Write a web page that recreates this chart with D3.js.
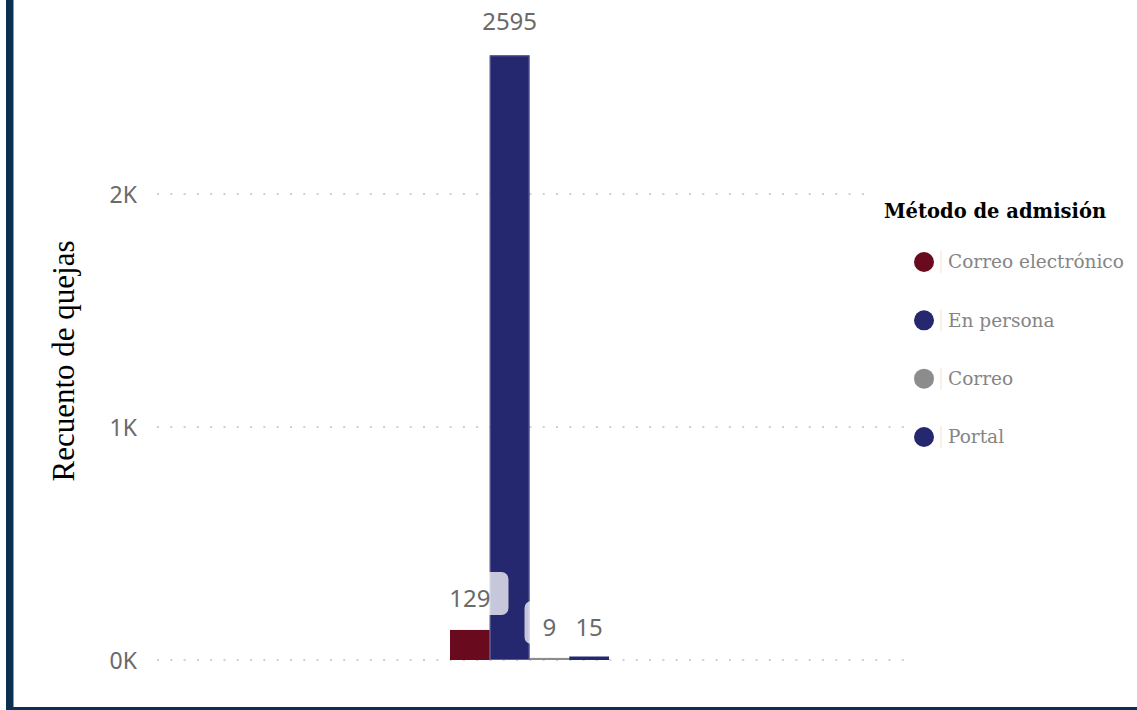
<!DOCTYPE html>
<html><head><meta charset="utf-8">
<script src="https://cdn.jsdelivr.net/npm/d3@7"></script>
<style>html,body{margin:0;padding:0;background:#fff;overflow:hidden}</style>
</head><body>
<svg id="c" width="1137" height="710"></svg>
<script>
const categories = ["Correo electrónico", "En persona", "Correo", "Portal"];
const values = [129, 2595, 9, 15];
const colors = ["#6a0a1f", "#25286f", "#8c8c8c", "#25286f"];
const yTicks = [0, 1000, 2000];
const yTitle = "Recuento de quejas";
const legendTitle = "Método de admisión";

const svg = d3.select("#c");
const W = 1137, H = 710;
svg.append("rect").attr("width", W).attr("height", H).attr("fill", "#fff");

const y = d3.scaleLinear().domain([0, 1000]).range([660, 427]);
const x = d3.scaleBand().domain(categories).range([450, 609]).padding(0);

// gridlines
const gx0 = 157, gx1 = 906;
const grid = svg.append("g");
yTicks.forEach(t => {
  grid.append("line").attr("x1", gx0).attr("x2", gx1)
    .attr("y1", y(t)).attr("y2", y(t))
    .attr("stroke", "#cfcfcf").attr("stroke-width", 2)
    .attr("stroke-dasharray", "2,11.3");
});

// y axis labels
const yAxis = d3.axisLeft(y).tickValues(yTicks).tickSize(0).tickPadding(0)
  .tickFormat(d => d3.format(".0f")(d / 1000) + "K");
const ga = svg.append("g").attr("transform", "translate(137,0)").call(yAxis);
ga.select(".domain").remove();
ga.selectAll("text").attr("font-family", "'Noto Sans', 'Open Sans', sans-serif")
  .attr("font-size", 23).attr("fill", "#6a6a6a").attr("dy", "0.35em");

// y title
svg.append("text").attr("transform", "translate(74,361) rotate(-90)")
  .attr("text-anchor", "middle")
  .attr("font-family", "'Liberation Serif', serif").attr("font-size", 31)
  .attr("fill", "#000").text(yTitle);

// bars
svg.append("g").selectAll("rect").data(categories).join("rect")
  .attr("x", d => x(d)).attr("width", x.bandwidth())
  .attr("y", (d, i) => y(values[i]))
  .attr("height", (d, i) => y(0) - y(values[i]))
  .attr("fill", (d, i) => colors[i]);
// light edge on tall bar
svg.append("rect").attr("x", x(categories[1]) + 0.5).attr("y", y(values[1]) + 0.5)
  .attr("width", x.bandwidth() - 1).attr("height", y(0) - y(values[1]) - 1)
  .attr("fill", "none").attr("stroke", "#5b5f99").attr("stroke-width", 1);

// labels
const labY = [607, 30, 636, 636];
const lab = svg.append("g");
const texts = [];
categories.forEach((c, i) => {
  const t = lab.append("text").attr("x", x(c) + x.bandwidth() / 2).attr("y", labY[i])
    .attr("text-anchor", "middle")
    .attr("font-family", "'Noto Sans', 'Open Sans', sans-serif")
    .attr("font-size", 24).attr("fill", "#6a6a6a").text(values[i]);
  texts.push(t);
});
// label backgrounds (semi-transparent white)
const boxes = svg.insert("g", function(){ return lab.node(); });
texts.forEach((t, i) => {
  const w = t.node().getComputedTextLength();
  const cx = x(categories[i]) + x.bandwidth() / 2;
  boxes.append("rect").attr("x", cx - w / 2 - 18).attr("y", labY[i] - 35)
    .attr("width", w + 36).attr("height", 43).attr("rx", 7)
    .attr("fill", "#fff").attr("fill-opacity", 0.74);
});

// legend
const lg = svg.append("g");
lg.append("rect").attr("x", 870).attr("y", 182).attr("width", 267).attr("height", 40).attr("fill", "#fff");
lg.append("text").attr("x", 884).attr("y", 218)
  .attr("font-family", "'DejaVu Serif', serif").attr("font-weight", "bold")
  .attr("font-size", 19.5).attr("fill", "#000").text(legendTitle);
const ly = d3.scalePoint().domain(categories).range([262, 437]);
categories.forEach((c, i) => {
  const g = lg.append("g").attr("transform", `translate(0,${ly(c)})`);
  g.append("circle").attr("cx", 924).attr("cy", 0).attr("r", 10).attr("fill", colors[i]);
  g.append("line").attr("x1", 941).attr("x2", 941).attr("y1", -11).attr("y2", 11)
    .attr("stroke", "#f4e3c4").attr("stroke-width", 1);
  g.append("text").attr("x", 948).attr("y", 0).attr("dy", "0.35em")
    .attr("font-family", "'DejaVu Serif', serif").attr("font-size", 18.5)
    .attr("fill", "#858585").text(c);
});

// border
svg.append("rect").attr("x", 6).attr("y", 0).attr("width", 7).attr("height", 710).attr("fill", "#0c3150");
svg.append("rect").attr("x", 6).attr("y", 707).attr("width", 1131).attr("height", 3).attr("fill", "#0c3150");
svg.append("line").attr("x1", 13.5).attr("x2", 13.5).attr("y1", 0).attr("y2", 707).attr("stroke", "#8a9aab").attr("stroke-width", 1);
</script>
</body></html>
